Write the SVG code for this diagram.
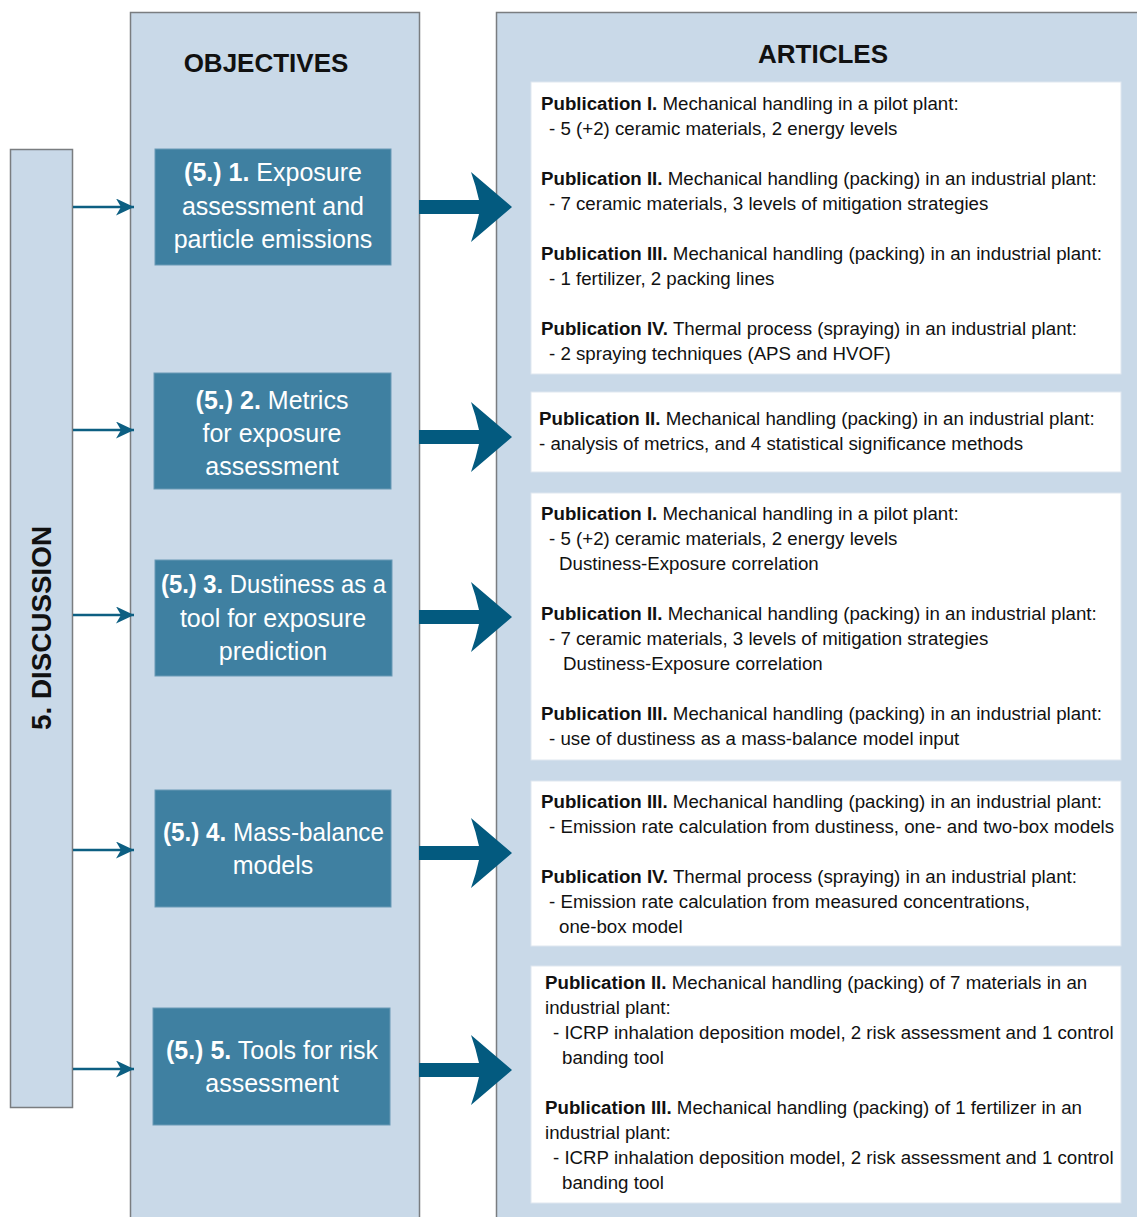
<svg xmlns="http://www.w3.org/2000/svg" width="1137" height="1217" viewBox="0 0 1137 1217">
  <style>
    .col { fill: #c9d9e8; stroke: #7a7d80; stroke-width: 1.5; }
    .obj { fill: #3f80a1; stroke: #6b9ab5; stroke-width: 1; }
    .card { fill: #ffffff; stroke: #dfe7ef; stroke-width: 1; }
    .head { font-family: "Liberation Sans", Arial, sans-serif; font-weight: bold; font-size: 26px; fill: #111; text-anchor: middle; }
    .vhead { font-size: 27.8px; }
    .objt { font-family: "Liberation Sans", Arial, sans-serif; font-size: 25px; fill: #ffffff; text-anchor: middle; }
    .art { font-family: "Liberation Sans", Arial, sans-serif; font-size: 18.7px; fill: #111; }
    .b { font-weight: bold; }
    .thin { stroke: #0d5f82; stroke-width: 2.6; fill: none; }
    .big { fill: #035a7f; }
  </style>
  <defs>
    <marker id="tip" markerWidth="20" markerHeight="18" refX="18" refY="8.5" orient="auto" markerUnits="userSpaceOnUse">
      <path d="M0,0 L18,8.5 L0,17 L5,8.5 Z" fill="#0d5f82"/>
    </marker>
  </defs>

  <!-- columns -->
  <g id="discussion">
    <rect class="col" x="10.5" y="149.5" width="62" height="958"/>
    <text class="head vhead" transform="translate(51,628) rotate(-90)">5. DISCUSSION</text>
  </g>
  <g id="objectives">
    <rect class="col" x="130.5" y="12.5" width="289" height="1215"/>
    <text class="head" x="266" y="72">OBJECTIVES</text>
  </g>
  <g id="articles">
    <rect class="col" x="496.5" y="12.5" width="650" height="1215"/>
    <text class="head" x="823" y="63">ARTICLES</text>
  </g>

  <!-- objective boxes -->
  <g id="obj1">
    <rect class="obj" x="155" y="149" width="236" height="116"/>
    <text class="objt" x="273" y="181"><tspan class="b">(5.) 1.</tspan> Exposure</text>
    <text class="objt" x="273" y="215">assessment and</text>
    <text class="objt" x="273" y="248">particle emissions</text>
  </g>
  <g id="obj2">
    <rect class="obj" x="154" y="373" width="237" height="116"/>
    <text class="objt" x="272" y="409"><tspan class="b">(5.) 2.</tspan> Metrics</text>
    <text class="objt" x="272" y="442">for exposure</text>
    <text class="objt" x="272" y="475">assessment</text>
  </g>
  <g id="obj3">
    <rect class="obj" x="155" y="560" width="237" height="116"/>
    <text class="objt" x="273.5" y="593" textLength="225" lengthAdjust="spacingAndGlyphs"><tspan class="b">(5.) 3.</tspan> Dustiness as a</text>
    <text class="objt" x="273" y="627">tool for exposure</text>
    <text class="objt" x="273" y="660">prediction</text>
  </g>
  <g id="obj4">
    <rect class="obj" x="155" y="790" width="236" height="117"/>
    <text class="objt" x="273.5" y="841" textLength="221" lengthAdjust="spacingAndGlyphs"><tspan class="b">(5.) 4.</tspan> Mass-balance</text>
    <text class="objt" x="273" y="874">models</text>
  </g>
  <g id="obj5">
    <rect class="obj" x="153" y="1008" width="237" height="117"/>
    <text class="objt" x="272" y="1059"><tspan class="b">(5.) 5.</tspan> Tools for risk</text>
    <text class="objt" x="272" y="1092">assessment</text>
  </g>

  <!-- article cards -->
  <g id="art1">
    <rect class="card" x="531" y="82" width="590" height="292"/>
    <text class="art" x="541" y="110"><tspan class="b">Publication I.</tspan> Mechanical handling in a pilot plant:</text>
    <text class="art" x="549" y="135">- 5 (+2) ceramic materials, 2 energy levels</text>
    <text class="art" x="541" y="185"><tspan class="b">Publication II.</tspan> Mechanical handling (packing) in an industrial plant:</text>
    <text class="art" x="549" y="210">- 7 ceramic materials, 3 levels of mitigation strategies</text>
    <text class="art" x="541" y="260"><tspan class="b">Publication III.</tspan> Mechanical handling (packing) in an industrial plant:</text>
    <text class="art" x="549" y="285">- 1 fertilizer, 2 packing lines</text>
    <text class="art" x="541" y="335"><tspan class="b">Publication IV.</tspan> Thermal process (spraying) in an industrial plant:</text>
    <text class="art" x="549" y="360">- 2 spraying techniques (APS and HVOF)</text>
  </g>
  <g id="art2">
    <rect class="card" x="531" y="392" width="590" height="80"/>
    <text class="art" x="539" y="425"><tspan class="b">Publication II.</tspan> Mechanical handling (packing) in an industrial plant:</text>
    <text class="art" x="539" y="450">- analysis of metrics, and 4 statistical significance methods</text>
  </g>
  <g id="art3">
    <rect class="card" x="531" y="493" width="590" height="267"/>
    <text class="art" x="541" y="520"><tspan class="b">Publication I.</tspan> Mechanical handling in a pilot plant:</text>
    <text class="art" x="549" y="545">- 5 (+2) ceramic materials, 2 energy levels</text>
    <text class="art" x="559" y="570">Dustiness-Exposure correlation</text>
    <text class="art" x="541" y="620"><tspan class="b">Publication II.</tspan> Mechanical handling (packing) in an industrial plant:</text>
    <text class="art" x="549" y="645">- 7 ceramic materials, 3 levels of mitigation strategies</text>
    <text class="art" x="563" y="670">Dustiness-Exposure correlation</text>
    <text class="art" x="541" y="720"><tspan class="b">Publication III.</tspan> Mechanical handling (packing) in an industrial plant:</text>
    <text class="art" x="549" y="745">- use of dustiness as a mass-balance model input</text>
  </g>
  <g id="art4">
    <rect class="card" x="531" y="781" width="590" height="165"/>
    <text class="art" x="541" y="808"><tspan class="b">Publication III.</tspan> Mechanical handling (packing) in an industrial plant:</text>
    <text class="art" x="549" y="833">- Emission rate calculation from dustiness, one- and two-box models</text>
    <text class="art" x="541" y="883"><tspan class="b">Publication IV.</tspan> Thermal process (spraying) in an industrial plant:</text>
    <text class="art" x="549" y="908">- Emission rate calculation from measured concentrations,</text>
    <text class="art" x="559" y="933">one-box model</text>
  </g>
  <g id="art5">
    <rect class="card" x="531" y="966" width="590" height="237"/>
    <text class="art" x="545" y="989"><tspan class="b">Publication II.</tspan> Mechanical handling (packing) of 7 materials in an</text>
    <text class="art" x="545" y="1014">industrial plant:</text>
    <text class="art" x="553" y="1039">- ICRP inhalation deposition model, 2 risk assessment and 1 control</text>
    <text class="art" x="562" y="1064">banding tool</text>
    <text class="art" x="545" y="1114"><tspan class="b">Publication III.</tspan> Mechanical handling (packing) of 1 fertilizer in an</text>
    <text class="art" x="545" y="1139">industrial plant:</text>
    <text class="art" x="553" y="1164">- ICRP inhalation deposition model, 2 risk assessment and 1 control</text>
    <text class="art" x="562" y="1189">banding tool</text>
  </g>

  <!-- connectors -->
  <g id="connectors">
    <line class="thin" x1="73" y1="207" x2="134" y2="207" marker-end="url(#tip)"/>
    <line class="thin" x1="73" y1="430" x2="134" y2="430" marker-end="url(#tip)"/>
    <line class="thin" x1="73" y1="615" x2="134" y2="615" marker-end="url(#tip)"/>
    <line class="thin" x1="73" y1="850" x2="134" y2="850" marker-end="url(#tip)"/>
    <line class="thin" x1="73" y1="1069" x2="134" y2="1069" marker-end="url(#tip)"/>
    <path class="big" d="M419,200 H479 Q476,186 471,172 L512,207 L471,242 Q476,228 479,214 H419 Z"/>
    <path class="big" d="M419,430 H479 Q476,416 471,402 L512,437 L471,472 Q476,458 479,444 H419 Z"/>
    <path class="big" d="M419,610 H479 Q476,596 471,582 L512,617 L471,652 Q476,638 479,624 H419 Z"/>
    <path class="big" d="M419,846 H479 Q476,832 471,818 L512,853 L471,888 Q476,874 479,860 H419 Z"/>
    <path class="big" d="M419,1063 H479 Q476,1049 471,1035 L512,1070 L471,1105 Q476,1091 479,1077 H419 Z"/>
  </g>
</svg>
